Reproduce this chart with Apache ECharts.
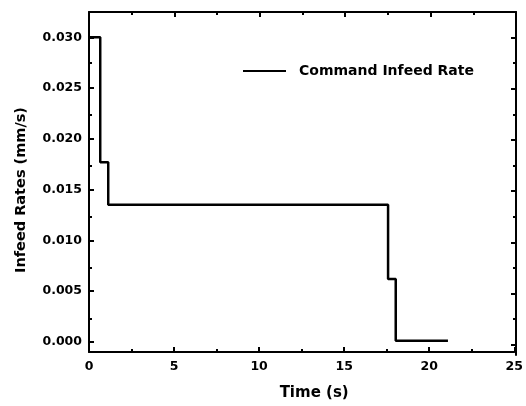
<!DOCTYPE html>
<html>
<head>
<meta charset="utf-8">
<script src="https://cdn.jsdelivr.net/npm/echarts@6/dist/echarts.min.js"></script>
<style>
  html, body { margin: 0; padding: 0; background: #fff; }
  #chart { width: 526px; height: 406px; }
</style>
</head>
<body>
<div id="chart"></div>
<script>
// Commanded infeed rate profile (step changes)
const seriesName = 'Command Infeed Rate';
const timeS = [0.05, 0.66, 1.13, 17.58, 18.03, 21.1];
const infeedRate = [0.0300, 0.0177, 0.0135, 0.0062, 0.0001, 0.0001];

// Axis ticks
const yMajorTicks = [0, 0.005, 0.010, 0.015, 0.020, 0.025, 0.030];
const yMinorTicks = [0.0025, 0.0075, 0.0125, 0.0175, 0.0225, 0.0275];
const xTickLabels = [0, 5, 10, 15, 20, 25];

const FONT = '"DejaVu Sans", "Liberation Sans", sans-serif';
const rect = { left: 89, right: 10, top: 12, bottom: 51 };
const yMin = -0.001, yMax = 0.0325;
const frame = { show: true, onZero: false, lineStyle: { color: '#000', width: 2 } };
const majorTick = len => ({ show: true, inside: true, length: len, lineStyle: { color: '#000', width: 2 } });

const chart = echarts.init(document.getElementById('chart'), null, { renderer: 'canvas' });

chart.setOption({
  backgroundColor: '#fff',
  animation: false,
  grid: [
    Object.assign({}, rect),
    Object.assign({}, rect),
    Object.assign({}, rect)
  ],
  legend: {
    left: 243, top: 64, padding: 0,
    icon: 'rect',
    itemWidth: 43, itemHeight: 2, itemGap: 8,
    data: [seriesName],
    textStyle: { fontFamily: FONT, fontWeight: 'bold', fontSize: 14, color: '#000', padding: [0, 0, 0, 8] }
  },
  xAxis: [
    {
      gridIndex: 0, type: 'value', position: 'bottom',
      min: 0, max: 25, interval: 5,
      name: 'Time (s)', nameLocation: 'middle', nameGap: 34,
      nameTextStyle: { fontFamily: FONT, fontWeight: 'bold', fontSize: 15, color: '#000', padding: [0, 0, 0, 25] },
      axisLine: frame,
      axisTick: majorTick(5),
      minorTick: { show: true, splitNumber: 2, length: 3, lineStyle: { color: '#000', width: 2 } },
      axisLabel: {
        margin: 8, fontFamily: FONT, fontWeight: 'bold', fontSize: 12.5, color: '#000',
        customValues: xTickLabels
      },
      splitLine: { show: false }
    },
    {
      gridIndex: 1, type: 'value', position: 'top',
      min: 0, max: 25, interval: 5,
      axisLine: frame,
      axisTick: majorTick(5),
      minorTick: { show: true, splitNumber: 2, length: 3, lineStyle: { color: '#000', width: 2 } },
      axisLabel: { show: false },
      splitLine: { show: false }
    },
    {
      gridIndex: 2, type: 'value', min: 0, max: 25,
      show: false
    }
  ],
  yAxis: [
    {
      gridIndex: 0, type: 'value', position: 'left',
      min: yMin, max: yMax,
      name: 'Infeed Rates (mm/s)', nameLocation: 'middle', nameGap: 60,
      nameTextStyle: { fontFamily: FONT, fontWeight: 'bold', fontSize: 14.5, color: '#000', padding: [0, 16, 0, 0] },
      axisLine: frame,
      axisTick: Object.assign(majorTick(5), { customValues: yMajorTicks }),
      axisLabel: {
        margin: 7, fontFamily: FONT, fontWeight: 'bold', fontSize: 12.5, color: '#000',
        customValues: yMajorTicks,
        formatter: v => v.toFixed(3)
      },
      splitLine: { show: false }
    },
    {
      gridIndex: 1, type: 'value', position: 'right',
      min: yMin, max: yMax,
      axisLine: frame,
      axisTick: Object.assign(majorTick(5), { customValues: yMajorTicks }),
      axisLabel: { show: false, customValues: yMajorTicks },
      splitLine: { show: false }
    },
    {
      gridIndex: 2, type: 'value', position: 'left',
      min: yMin, max: yMax,
      axisLine: { show: false, onZero: false },
      axisTick: Object.assign(majorTick(3), { customValues: yMinorTicks }),
      axisLabel: { show: false, customValues: yMinorTicks },
      splitLine: { show: false }
    },
    {
      gridIndex: 2, type: 'value', position: 'right',
      min: yMin, max: yMax,
      axisLine: { show: false, onZero: false },
      axisTick: Object.assign(majorTick(3), { customValues: yMinorTicks }),
      axisLabel: { show: false, customValues: yMinorTicks },
      splitLine: { show: false }
    }
  ],
  series: [
    {
      name: seriesName,
      type: 'line',
      xAxisIndex: 0, yAxisIndex: 0,
      step: 'end',
      symbol: 'none',
      lineStyle: { color: '#000', width: 2.5 },
      itemStyle: { color: '#000' },
      data: timeS.map((t, i) => [t, infeedRate[i]])
    }
  ]
});
</script>
</body>
</html>
